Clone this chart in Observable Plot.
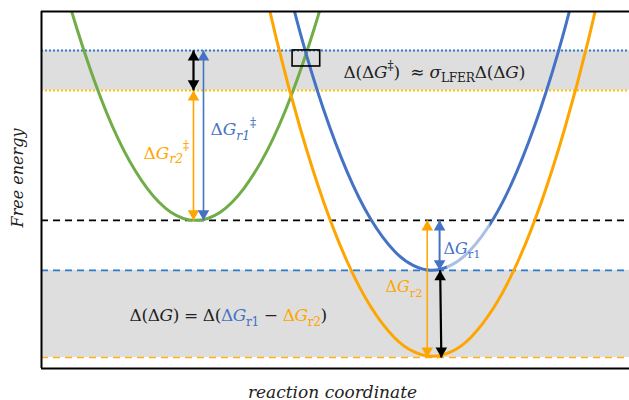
<!DOCTYPE html>
<html>
<head>
<meta charset="utf-8">
<script src="https://cdn.jsdelivr.net/npm/d3@7"></script>
<script src="https://cdn.jsdelivr.net/npm/@observablehq/plot@0.6"></script>
<style>
  html, body { margin: 0; padding: 0; background: #fff; }
</style>
</head>
<body>
<div id="chart"></div>
<script>
// ---- Energy levels (arbitrary free-energy units, frame = 0..100) ----
const levelTS1 = 89.1;      // transition state, reaction 1 (blue dotted)
const levelTS2 = 77.9;      // transition state, reaction 2 (orange dotted)
const levelReactant = 41.5; // reactant minimum (black dashed)
const levelProd1 = 27.5;    // product 1 minimum (blue dashed)
const levelProd2 = 3.1;     // product 2 minimum (orange dashed)

// ---- Parabolas: [reaction coordinate, free energy] ----
const greenCurve = [[3,112.4],[6,95.3],[10,76.1],[14,61.1],[18,50.4],[22,43.8],[26.2,41.5],
  [30.4,43.8],[34.4,50.4],[38.4,61.1],[42.4,76.1],[46.4,95.3],[49.4,112.4]];
const blueCurve = [[40,119.9],[44,94.0],[48,72.4],[52,55.0],[56,41.8],[60,32.9],[63.2,28.9],
  [66.4,27.5],[69.6,28.9],[72.8,32.9],[76.8,41.8],[80.8,55.0],[84.8,72.4],[88.8,94.0],[92.8,119.9]];
const orangeCurve = [[36,120.8],[40,92.0],[44,67.3],[48,46.6],[52,29.9],[56,17.3],[60,8.7],[63.3,4.7],
  [66.5,3.4],[69.7,4.7],[73,8.7],[77,17.3],[81,29.9],[85,46.6],[89,67.3],[93,92.0],[97,120.8]];

// ---- Arrows: [series, x at low end, x at high end, low energy, high energy] ----
const arrowSeries = ["orangeL", "blueL", "blackL", "orangeR", "blueR", "blackR"];
const arrowX1 = [25.85, 27.55, 25.85, 65.6, 67.7, 68.0];
const arrowX2 = [25.85, 27.55, 25.85, 65.6, 67.7, 67.8];
const arrowLow = [levelReactant, levelReactant, levelTS2, levelProd2, levelProd1, levelProd2];
const arrowHigh = [levelTS2, levelTS1, levelTS1, levelReactant, levelReactant, levelProd1];

// ---- Marker box near curve crossing ----
const boxX = [42.7, 47.4];
const boxE = [84.6, 89.1];

// ---- Label-faded zone on blue curve ----
const fadeX = [69.0, 76.3];
const fadeE = [28.0, 41.0];

// ---- Annotation anchors (reaction coordinate, free energy) and texts ----
const labelNames = ["lfer", "dGr2TS", "dGr1TS", "dGr1", "dGr2", "ddG"];
const labelX = [51.36, 17.35, 28.74, 68.37, 58.5, 14.97];
const labelE = [81.5, 58.8, 65.3, 32.2, 21.3, 13.2];

const xLabel = "reaction coordinate";
const yLabel = "Free energy";

// ---- Styles ----
const GREEN = "#70AD47", BLUE = "#4472C4", ORANGE = "#FFA500";
const LBLUE = "#2E7BCB", GOLD = "#FFC000", LORANGE = "#FFAE1A";
const arrowColor = {orangeL: ORANGE, blueL: BLUE, blackL: "#000", orangeR: ORANGE, blueR: BLUE, blackR: "#000"};
const arrowWidth = {orangeL: 1.6, blueL: 1.6, blackL: 2.2, orangeR: 1.5, blueR: 2, blackR: 2.2};
const FONT = "DejaVu Serif";

const labelParts = {
  lfer: [["Δ(Δ",""],["G","i"],["‡","sup"],[")  ≈ ",""],["σ","i"],["LFER","sub"],["Δ(Δ",""],["G","i"],[")",""]],
  dGr2TS: [["Δ",""],["G","i"],["r2","isub"],["‡","sup2"]],
  dGr1TS: [["Δ",""],["G","i"],["r1","isub"],["‡","sup2"]],
  dGr1: [["Δ",""],["G","i"],["r1","sub"]],
  dGr2: [["Δ",""],["G","i"],["r2","sub"]],
  ddG: [["Δ(Δ",""],["G","i"],[") = Δ(",""],["Δ","",BLUE],["G","i",BLUE],["r1","sub",BLUE],[" − ",""],
        ["Δ","",ORANGE],["G","i",ORANGE],["r2","sub",ORANGE],[")",""]]
};
const labelColor = {lfer: "#222", dGr2TS: ORANGE, dGr1TS: BLUE, dGr1: BLUE, dGr2: ORANGE, ddG: "#222"};
const labelSize = {lfer: 17, dGr2TS: 17, dGr1TS: 17, dGr1: 16, dGr2: 16, ddG: 17};
const labelSpacing = {lfer: -0.2, dGr2TS: 0, dGr1TS: 0, dGr1: 0, dGr2: 0, ddG: -0.4};

// ---- Build tables ----
const arrows = arrowSeries.map((s, i) => ({s, x1: arrowX1[i], x2: arrowX2[i], lo: arrowLow[i], hi: arrowHigh[i]}));
const heads = arrows.flatMap(a => [
  {s: a.s, x: a.x2, e: a.hi, up: true},
  {s: a.s, x: a.x1, e: a.lo, up: false}
]);
const labels = labelNames.map((n, i) => ({n, x: labelX[i], e: labelE[i]}));
const R = 4.3;
const apex = 2 * Math.sqrt((R * R * Math.PI) / (Math.sqrt(3) * 3));

const marks = [
  Plot.rect([{a: levelTS2, b: levelTS1}, {a: levelProd2, b: levelProd1}],
    {x1: 0, x2: 100, y1: "a", y2: "b", fill: "#DEDEDE"}),
  Plot.ruleY([levelTS1], {stroke: LBLUE, strokeWidth: 2, strokeDasharray: "2 2"}),
  Plot.ruleY([levelTS2], {stroke: GOLD, strokeWidth: 2, strokeDasharray: "2 2"}),
  Plot.ruleY([levelReactant], {stroke: "#000", strokeWidth: 1.6, strokeDasharray: "7 5"}),
  Plot.ruleY([levelProd1], {stroke: LBLUE, strokeWidth: 1.6, strokeDasharray: "7 5"}),
  Plot.ruleY([levelProd2], {stroke: LORANGE, strokeWidth: 1.6, strokeDasharray: "7 5"}),
  Plot.line(greenCurve, {x: d => d[0], y: d => d[1], stroke: GREEN, strokeWidth: 3, curve: "natural", clip: true}),
  Plot.line(orangeCurve, {x: d => d[0], y: d => d[1], stroke: ORANGE, strokeWidth: 3, curve: "natural", clip: true}),
  Plot.line(blueCurve, {x: d => d[0], y: d => d[1], stroke: BLUE, strokeWidth: 3, curve: "natural", clip: true}),
  Plot.rect([{}], {x1: fadeX[0], x2: fadeX[1], y1: fadeE[0], y2: fadeE[1], fill: "#fff", fillOpacity: 0.55}),
  Plot.rect([{}], {x1: boxX[0], x2: boxX[1], y1: boxE[0], y2: boxE[1], fill: "none", stroke: "#000", strokeWidth: 1.6}),
  Plot.link(arrows, {x1: "x1", x2: "x2", y1: "lo", y2: "hi",
    stroke: d => arrowColor[d.s], strokeWidth: d => arrowWidth[d.s]}),
  Plot.dot(heads.filter(h => h.up), {x: "x", y: "e", symbol: "triangle", r: R, dy: apex,
    fill: d => arrowColor[d.s], stroke: "none"}),
  Plot.dot(heads.filter(h => !h.up), {x: "x", y: "e", symbol: "triangle", r: R, dy: -apex, rotate: 180,
    fill: d => arrowColor[d.s], stroke: "none"}),
  Plot.text(labels, {x: "x", y: "e", text: "n", textAnchor: "start", lineAnchor: "bottom",
    fill: d => labelColor[d.n], fontFamily: FONT}),
  Plot.text([yLabel], {frameAnchor: "left", text: d => d, rotate: -90, textAnchor: "middle", lineAnchor: "middle",
    dx: -24, dy: -12, fontFamily: FONT, fontStyle: "italic", fontSize: 16, fill: "#222", letterSpacing: "1px"}),
  Plot.text([xLabel], {frameAnchor: "bottom", text: d => d, textAnchor: "middle", lineAnchor: "bottom",
    dy: 29, dx: -3, fontFamily: FONT, fontStyle: "italic", fontSize: 17, fill: "#222", letterSpacing: "0.3px"}),
  Plot.ruleX([0], {stroke: "#000", strokeWidth: 2}),
  Plot.ruleY([0, 100], {stroke: "#000", strokeWidth: 2})
];

const chart = Plot.plot({
  width: 629,
  height: 400,
  marginLeft: 41,
  marginRight: 0,
  marginTop: 11,
  marginBottom: 32,
  x: {domain: [0, 100], axis: null},
  y: {domain: [0, 100], axis: null},
  style: {background: "#fff", overflow: "visible"},
  marks
});

// Fill rich text (subscripts, superscripts, italics, mixed colours)
const NS = "http://www.w3.org/2000/svg";
chart.querySelectorAll("text").forEach(el => {
  const name = el.textContent.trim();
  if (!(name in labelParts)) return;
  const size = labelSize[name];
  while (el.firstChild) el.removeChild(el.firstChild);
  el.setAttribute("font-size", size);
  el.setAttribute("letter-spacing", labelSpacing[name]);
  let shift = 0;
  for (const [t, style, color] of labelParts[name]) {
    const ts = document.createElementNS(NS, "tspan");
    ts.textContent = t;
    let target = 0, fs = size;
    if (style.includes("sub")) { target = size * 0.28; fs = size * 0.72; }
    if (style === "sup") { target = -size * 0.42; fs = size * 0.72; }
    if (style === "sup2") { target = -size * 0.5; fs = size * 0.72; }
    ts.setAttribute("dy", (target - shift).toFixed(2));
    shift = target;
    ts.setAttribute("font-size", fs.toFixed(1));
    if (style.startsWith("i")) ts.setAttribute("font-style", "italic");
    if (color) ts.setAttribute("fill", color);
    el.appendChild(ts);
  }
});

document.getElementById("chart").appendChild(chart);
</script>
</body>
</html>
